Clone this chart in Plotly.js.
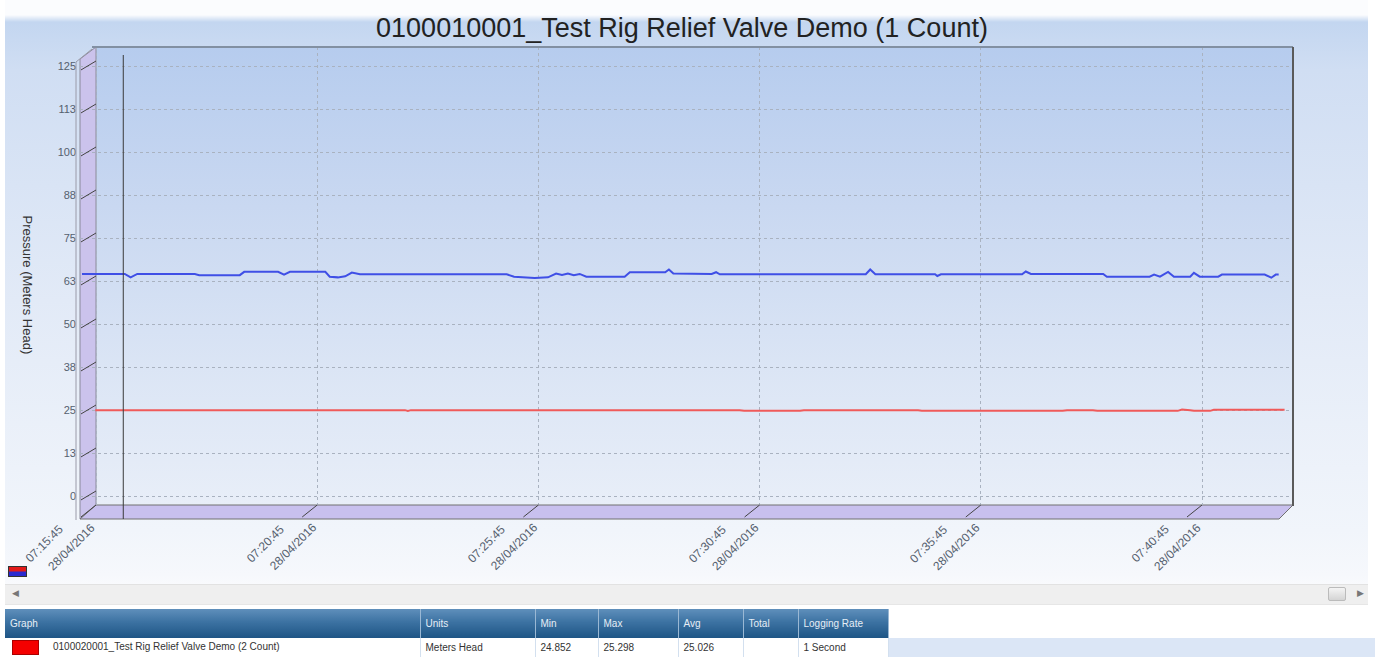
<!DOCTYPE html>
<html>
<head>
<meta charset="utf-8">
<script src="https://cdn.plot.ly/plotly-3.0.1.min.js"></script>
<style>
  html, body { margin:0; padding:0; width:1375px; height:657px; overflow:hidden; background:#ffffff; font-family:"Liberation Sans", Arial, sans-serif; }
  #bg { position:absolute; left:5px; top:0; width:1363px; height:606px;
        background:linear-gradient(to bottom, #fbfcfe 0px, #fbfcfe 15px, #c3d6f0 22px, #d0def3 70px, #e2eaf7 300px, #f1f5fb 530px, #f6f8fc 575px, #ffffff 606px); }
  #plotbg { position:absolute; left:96px; top:47px; width:1197px; height:458px;
        background:linear-gradient(to bottom, #b6ccee 0%, #c9d8f1 35%, #dbe5f5 70%, #e8eef8 100%); }
  #chart { position:absolute; left:0; top:0; width:1375px; height:657px; }
  #legicon { position:absolute; left:8px; top:566px; width:19px; height:11px; border:1px solid #333; box-sizing:border-box;
        background:linear-gradient(to bottom, #e21a1a 0%, #e21a1a 45%, #2a2ad0 55%, #2a2ad0 100%); }
  #scroll { position:absolute; left:5px; top:584px; width:1363px; height:19px; background:#efefef; border-top:1px solid #e2e2e2; border-bottom:1px solid #e6e6e6; }
  #scroll .la { position:absolute; left:7px; top:3px; font-size:9px; color:#777; }
  #scroll .ra { position:absolute; left:1352px; top:3px; font-size:9px; color:#777; }
  #scroll .thumb { position:absolute; left:1323px; top:2px; width:18px; height:14px; border:1px solid #bbb; border-radius:2px;
        background:linear-gradient(to bottom, #f4f4f4, #d4d4d4); box-sizing:border-box; }
  #tbl { position:absolute; left:5px; top:609px; border-collapse:collapse; table-layout:fixed; font-size:10px; width:883px; }
  #tbl th { height:29px; padding:0 0 0 5px; text-align:left; font-weight:normal; color:#e6eef6; font-size:10px;
        background:linear-gradient(to bottom, #5f8fbb 0%, #3c72a2 45%, #1e5585 100%); border-right:1px solid #9ab8d4; box-sizing:border-box; }
  #tbl td { height:19px; padding:0 0 0 5px; color:#333; background:#ffffff; border-right:1px solid #d3e0ef; white-space:nowrap; overflow:hidden; box-sizing:border-box; }
  #rowfill { position:absolute; left:888px; top:638px; width:487px; height:19px; background:#dbe6f6; }
  .sw { display:inline-block; width:27px; height:15px; background:#f40000; border:1px solid #aa0000; vertical-align:middle; margin:0 14px 0 2px; box-sizing:border-box; }
</style>
</head>
<body>
<div id="bg"></div>
<div id="plotbg"></div>
<div id="chart"></div>
<div id="legicon"></div>
<div id="scroll"><span class="la">&#9664;</span><div class="thumb"></div><span class="ra">&#9654;</span></div>
<div id="rowfill"></div>
<table id="tbl"><colgroup id="cols"></colgroup><thead><tr id="hdr"></tr></thead><tbody><tr id="row"></tr></tbody></table>
<script>
// ---------------- data ----------------
const chartTitle = "0100010001_Test Rig Relief Valve Demo (1 Count)";
const yAxisTitle = "Pressure (Meters Head)";
const dateStr = "2016-04-28";

const blueTimes = ["07:15:26","07:16:24","07:16:32","07:16:41","07:17:59","07:18:05","07:19:00","07:19:06","07:19:52","07:20:00",
  "07:20:08","07:20:56","07:21:02","07:21:13","07:21:23","07:21:32","07:21:43","07:25:02","07:25:12","07:25:40",
  "07:25:58","07:26:09","07:26:17","07:26:25","07:26:33","07:26:41","07:26:50","07:27:42","07:27:49","07:28:37",
  "07:28:42","07:28:48","07:29:40","07:29:46","07:29:51","07:33:09","07:33:15","07:33:22","07:34:43","07:34:46",
  "07:34:51","07:36:41","07:36:46","07:36:53","07:38:31","07:38:36","07:39:34","07:39:40","07:39:48","07:39:59",
  "07:40:07","07:40:29","07:40:34","07:40:42","07:41:07","07:41:12","07:42:10","07:42:19","07:42:25","07:42:29"];
const blueValues = [64.7,64.7,63.7,64.7,64.7,64.35,64.35,65.3,65.3,64.5,
  65.3,65.3,63.9,63.7,64.0,65.1,64.6,64.6,63.9,63.5,
  63.7,64.8,64.4,64.8,64.3,64.7,63.9,63.9,65.2,65.2,
  66.0,64.8,64.7,65.2,64.6,64.6,66.0,64.6,64.6,64.1,
  64.6,64.6,65.4,64.7,64.7,63.9,63.9,64.5,63.9,65.3,
  63.9,63.9,65.0,63.9,63.9,64.5,64.5,63.6,64.5,64.5];

const redTimes = ["07:15:44","07:22:44","07:22:48","07:22:52","07:30:18","07:30:24","07:31:40","07:31:45","07:34:20","07:34:25",
  "07:37:36","07:37:42","07:38:17","07:38:23","07:40:12","07:40:18","07:40:29","07:40:34","07:40:56","07:41:01","07:42:37"];
const redValues = [25.1,25.1,24.85,25.1,25.1,24.9,24.9,25.1,25.1,24.9,
  24.9,25.1,25.1,24.9,24.9,25.3,25.1,24.9,24.9,25.2,25.2];

const xTickTimes = ["07:15:45","07:20:45","07:25:45","07:30:45","07:35:45","07:40:45"];
const xTickDate = "28/04/2016";
const yTickVals = [0,12.5,25,37.5,50,62.5,75,87.5,100,112.5,125];
const yTickText = ["0","13","25","38","50","63","75","88","100","113","125"];
const cursorTime = "07:16:22";

const tableHeaders = ["Graph","Units","Min","Max","Avg","Total","Logging Rate"];
const tableRow = ["0100020001_Test Rig Relief Valve Demo (2 Count)","Meters Head","24.852","25.298","25.026","","1 Second"];

// ---------------- layout constants ----------------
const W = 1375, H = 657;
const PL = 80, PR = 1293, PT = 47, PB = 505;      // plot area in pixels
const WALLX = 96;                                  // back wall left edge
const SEC_PER_PX = 300 / 221.2;                    // time scale
const colWidths = [415,115,63,80,65,55,90];

function toMs(t){ return Date.parse(dateStr + "T" + t + "Z"); }
function xp(px){ return (px - PL) / (PR - PL); }
function yp(py){ return (PB - py) / (PB - PT); }

const t0 = toMs(xTickTimes[0]);
const xRange = [t0 + (PL - WALLX) * SEC_PER_PX * 1000, t0 + (PR - WALLX) * SEC_PER_PX * 1000];
const yPerPx = 1 / 3.44;
const y0val = 25 - (PB - 410.5) * yPerPx;          // value at plot bottom
const yRange = [y0val, y0val + (PB - PT) * yPerPx];

// ---------------- traces ----------------
const traces = [
  { x: redTimes.map(toMs), y: redValues, type: "scatter", mode: "lines", name: "0100020001",
    line: { color: "#f05a5a", width: 2 }, hoverinfo: "skip" },
  { x: blueTimes.map(toMs), y: blueValues, type: "scatter", mode: "lines", name: "0100010001",
    line: { color: "#3f4fe6", width: 2 }, hoverinfo: "skip" }
];

// ---------------- shapes ----------------
const shapes = [];
shapes.push({ type: "path", xref: "paper", yref: "paper", layer: "between",
  path: `M ${xp(80)},${yp(59)} L ${xp(96)},${yp(47)} L ${xp(96)},${yp(505)} L ${xp(80)},${yp(519)} Z`,
  fillcolor: "#cbc3ec", line: { color: "#8a8a9a", width: 1 } });
shapes.push({ type: "path", xref: "paper", yref: "paper", layer: "between",
  path: `M ${xp(80)},${yp(519)} L ${xp(96)},${yp(505)} L ${xp(1293)},${yp(505)} L ${xp(1279)},${yp(519)} Z`,
  fillcolor: "#c8c0ee", line: { color: "#707070", width: 1 } });
shapes.push({ type: "line", xref: "paper", yref: "paper", layer: "above",
  x0: xp(76), x1: xp(76), y0: yp(62), y1: yp(520), line: { color: "#9a9aa8", width: 1 } });
shapes.push({ type: "line", xref: "paper", yref: "paper", layer: "above",
  x0: xp(76), x1: xp(92), y0: yp(62), y1: yp(49), line: { color: "#9a9aa8", width: 1 } });
shapes.push({ type: "line", xref: "paper", yref: "paper", layer: "above",
  x0: xp(92), x1: xp(1293), y0: yp(47), y1: yp(47), line: { color: "#8290a2", width: 2 } });
shapes.push({ type: "line", xref: "paper", yref: "paper", layer: "above",
  x0: xp(1293), x1: xp(1293), y0: yp(47), y1: yp(506), line: { color: "#5a5a5a", width: 2 } });
yTickVals.forEach(v => shapes.push({ type: "line", xref: "paper", yref: "y", layer: "above",
  x0: xp(81), x1: xp(96), y0: v - 1.0, y1: v + 1.6, line: { color: "#444", width: 1 } }));
xTickTimes.forEach(t => { const m = toMs(t); shapes.push({ type: "line", xref: "x", yref: "paper", layer: "above",
  x0: m, x1: m - 15 * SEC_PER_PX * 1000, y0: 0, y1: yp(517), line: { color: "#444", width: 1 } }); });
shapes.push({ type: "line", xref: "x", yref: "paper", layer: "above",
  x0: toMs(cursorTime), x1: toMs(cursorTime), y0: yp(519), y1: yp(55), line: { color: "#3a3a3a", width: 1 } });

// ---------------- x tick labels (two left-aligned rotated lines) ----------------
const tickFont = { family: "Liberation Sans, Arial, sans-serif", size: 12, color: "#55606e" };
const annotations = [{ text: yAxisTitle, xref: "paper", yref: "paper", x: xp(18), y: yp(285),
  textangle: 90, showarrow: false, font: { size: 13, color: "#333" } }];
xTickTimes.forEach(t => {
  annotations.push({ text: t, xref: "x", yref: "paper", x: toMs(t), y: yp(521), xshift: -29,
    xanchor: "right", yanchor: "top", textangle: -45, showarrow: false, font: tickFont, borderpad: 0 });
  annotations.push({ text: xTickDate, xref: "x", yref: "paper", x: toMs(t), y: yp(519), xshift: 3,
    xanchor: "right", yanchor: "top", textangle: -45, showarrow: false, font: tickFont, borderpad: 0 });
});

const layout = {
  width: W, height: H,
  margin: { l: PL, r: W - PR, t: PT, b: H - PB, pad: 0 },
  paper_bgcolor: "rgba(0,0,0,0)", plot_bgcolor: "rgba(0,0,0,0)",
  showlegend: false,
  font: { family: "Liberation Sans, Arial, sans-serif", color: "#555", size: 10 },
  title: { text: chartTitle, x: 0.496, xref: "container", y: 1 - 28 / H, yref: "container", yanchor: "middle",
    font: { family: "Liberation Sans, Arial, sans-serif", size: 27, color: "#222" } },
  xaxis: {
    type: "date", range: xRange, fixedrange: true,
    tickvals: xTickTimes.map(toMs), showticklabels: false, ticks: "",
    showgrid: true, gridcolor: "#a9b2c0", griddash: "dot", gridwidth: 1,
    showline: false, zeroline: false
  },
  yaxis: {
    range: yRange, fixedrange: true,
    tickvals: yTickVals, ticktext: yTickText, ticks: "", ticklabelstandoff: 3,
    tickfont: { size: 11, color: "#55606e" },
    showgrid: true, gridcolor: "#a9b2c0", griddash: "dot", gridwidth: 1,
    showline: false, zeroline: false
  },
  annotations: annotations,
  shapes: shapes
};

Plotly.newPlot("chart", traces, layout, { displayModeBar: false, staticPlot: true });

// ---------------- table ----------------
const cols = document.getElementById("cols");
colWidths.forEach(w => { const c = document.createElement("col"); c.style.width = w + "px"; cols.appendChild(c); });
const hdr = document.getElementById("hdr");
tableHeaders.forEach(h => { const th = document.createElement("th"); th.textContent = h; hdr.appendChild(th); });
const row = document.getElementById("row");
tableRow.forEach((c, i) => {
  const td = document.createElement("td");
  if (i === 0) { const s = document.createElement("span"); s.className = "sw"; td.appendChild(s); }
  td.appendChild(document.createTextNode(c));
  row.appendChild(td);
});
</script>
</body>
</html>
